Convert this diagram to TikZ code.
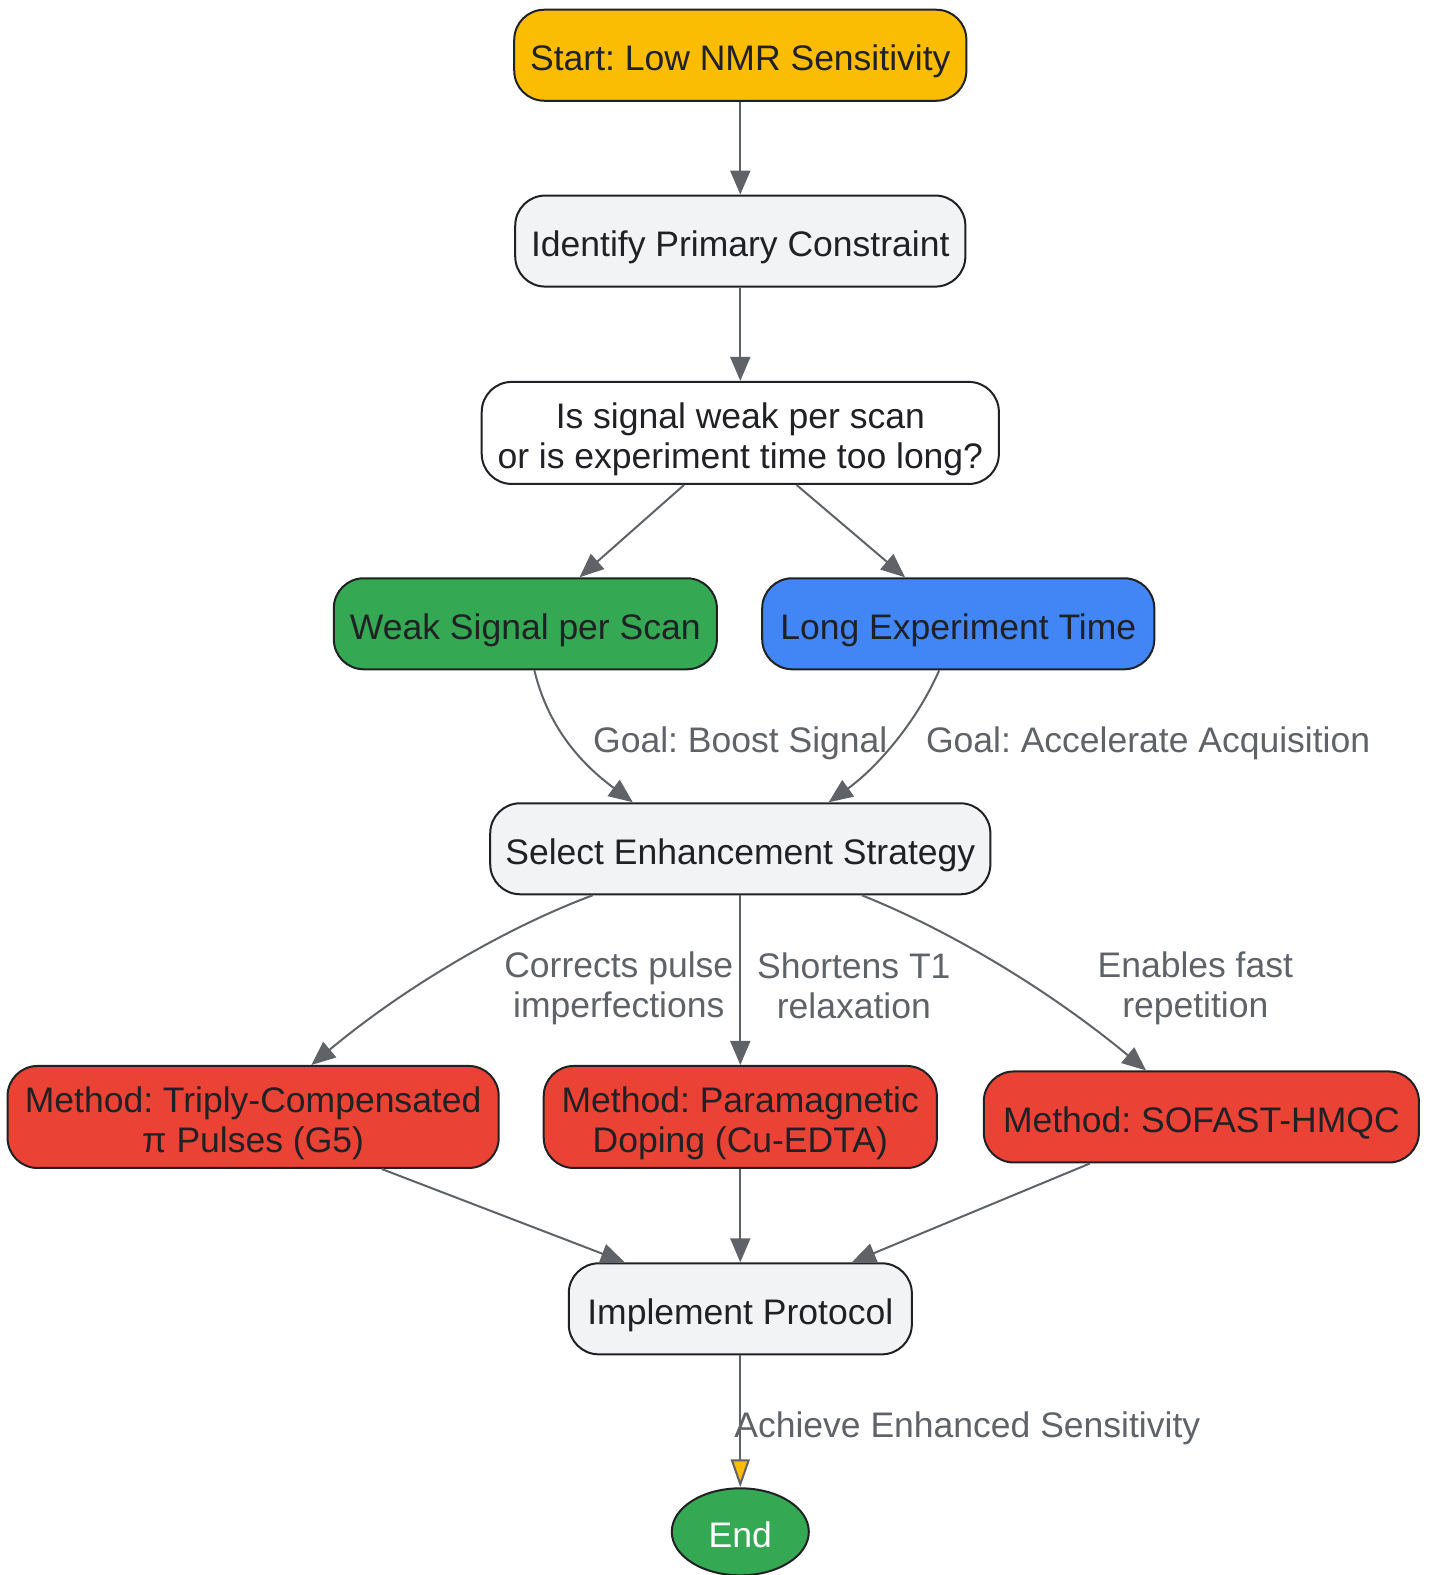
\documentclass[tikz,border=0pt]{standalone}
\usepackage{fontspec}
\setmainfont{Liberation Sans}
\frenchspacing
\usetikzlibrary{arrows.meta,shapes.geometric,calc}
\definecolor{cyellow}{HTML}{FBBC04}
\definecolor{cgray}{HTML}{F1F3F4}
\definecolor{cgreen}{HTML}{34A853}
\definecolor{cblue}{HTML}{4285F4}
\definecolor{cred}{HTML}{EA4335}
\definecolor{cborder}{HTML}{202124}
\definecolor{cedge}{HTML}{5F6368}
\newcommand\nf{\fontsize{35.5}{40}\selectfont}
\newcommand\st{\rule[-6pt]{0pt}{44pt}}
\newcommand\stb{\rule[-6pt]{0pt}{30pt}}
\begin{document}
\begin{tikzpicture}[x=1.00421pt,y=-1.00421pt,
  box/.style={draw=cborder, line width=2pt, rounded corners=30pt, align=center,
    inner sep=0pt, text=cborder, font=\nf, minimum height=91pt},
  conn/.style={draw=cedge, line width=2pt, -{Triangle[length=24pt,width=20pt]}},
  lbl/.style={text=cedge, font=\nf, align=center, inner sep=0pt}]
\useasboundingbox (0,0) rectangle (1424,1568);
\fill[white] (0,0) rectangle (1424,1568);
% nodes
\node[box, fill=cyellow, minimum width=452pt] (start) at (737,55) {\st Start: Low NMR Sensitivity};
\node[box, fill=cgray, minimum width=450pt] (ident) at (737,240) {\st Identify Primary Constraint};
\node[box, fill=white, minimum width=517pt, minimum height=102pt] (dec) at (737,431) {\st Is signal weak per scan\\\stb or is experiment time too long?};
\node[box, fill=cgreen, minimum width=383pt] (weak) at (523,621) {\st Weak Signal per Scan};
\node[box, fill=cblue, minimum width=392pt] (long) at (954,621) {\st Long Experiment Time};
\node[box, fill=cgray, minimum width=500pt] (sel) at (737,845) {\st Select Enhancement Strategy};
\node[box, fill=cred, minimum width=491pt, minimum height=102pt] (tri) at (252,1112) {\st Method: Triply-Compensated\\\stb π Pulses (G5)};
\node[box, fill=cred, minimum width=393pt, minimum height=102pt] (para) at (737,1112) {\st Method: Paramagnetic\\\stb Doping (Cu-EDTA)};
\node[box, fill=cred, minimum width=435pt] (sofast) at (1196,1112) {\st Method: SOFAST-HMQC};
\node[box, fill=cgray, minimum width=343pt] (impl) at (737,1303) {\st Implement Protocol};
\node[draw=cborder, line width=2pt, ellipse, fill=cgreen, text=white, font=\nf,
  minimum width=137pt, minimum height=87pt, inner sep=0pt] (endn) at (737,1525) {\st End};
% edges
\draw[conn] (start) -- (ident);
\draw[conn] (ident) -- (dec);
\draw[conn] ($(dec.south)+(-56,0)$) -- ($(weak.north)+(54,0)$);
\draw[conn] ($(dec.south)+(56,0)$) -- ($(long.north)+(-53,0)$);
\draw[conn] ($(weak.south)+(9,0)$) .. controls (547,730) and (585,765) .. ($(sel.north)+(-107,0)$);
\draw[conn] ($(long.south)+(-19,0)$) .. controls (912,720) and (872,765) .. ($(sel.north)+(88,0)$);
\draw[conn] ($(sel.south)+(-147,0)$) .. controls (500,925) and (400,985) .. ($(tri.north)+(58,0)$);
\draw[conn] (sel) -- (para);
\draw[conn] ($(sel.south)+(121,0)$) .. controls (950,928) and (1050,990) .. ($(sofast.north)+(-55,0)$);
\draw[conn] ($(tri.south)+(128,0)$) -- ($(impl.north)+(-115,0)$);
\draw[conn] (para) -- (impl);
\draw[conn] ($(sofast.south)+(-111,0)$) -- ($(impl.north)+(111,0)$);
\draw[draw=cedge, line width=2pt, -{Triangle[length=28pt,width=19pt,fill=cyellow]}] (impl) -- (endn);
% edge labels
\node[lbl] (l1) at (737,734) {\st Goal: Boost Signal};
\node[lbl] (l2) at (1143,734) {\st Goal: Accelerate Acquisition};
\node[lbl] (l3) at (616,978) {\st Corrects pulse\\\stb imperfections};
\node[lbl] (l4) at (850,978) {\st Shortens T1\\\stb relaxation};
\node[lbl] (l5) at (1190,978) {\st Enables fast\\\stb repetition};
\node[lbl] (l6) at (963,1416) {\st Achieve Enhanced Sensitivity};
\end{tikzpicture}
\end{document}
